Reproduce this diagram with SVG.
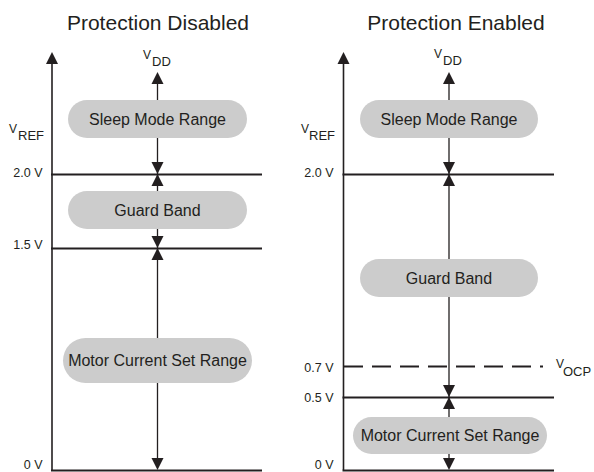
<svg xmlns="http://www.w3.org/2000/svg" width="594" height="472" viewBox="0 0 594 472">
<defs>
<style>
text{font-family:"Liberation Sans",Arial,sans-serif;fill:#231f20}
.title{font-size:21px;text-anchor:middle}
.pill{fill:#cccccc}
.pt{font-size:16px;text-anchor:middle}
.lbl{font-size:12.5px;text-anchor:end}
.v{font-size:12px}
.axis{stroke:#231f20;stroke-width:1.6;fill:none}
.lev{stroke:#231f20;stroke-width:2;fill:none}
.dash{stroke:#231f20;stroke-width:2;fill:none;stroke-dasharray:19 9}
.ctr{stroke:#231f20;stroke-width:1.3;fill:none}
.ah{fill:#231f20}
</style>
</defs>
<rect width="594" height="472" fill="#ffffff"/>
<text class="title" x="158" y="30">Protection Disabled</text>
<text class="title" x="456" y="30">Protection Enabled</text>

<g id="connectors">
<!-- left panel -->
<path class="axis" d="M52,60 V470"/>
<polygon class="ah" points="52,52 46,64 58,64"/>
<path class="lev" d="M51,174.5 H262 M51,248.5 H262 M51,470.5 H262"/>
<path class="ctr" d="M157.5,80 V464"/>
<polygon class="ah" points="157.5,72 151.5,84 163.5,84"/>
<polygon class="ah" points="157.5,174 151.5,162 163.5,162"/>
<polygon class="ah" points="157.5,174 151.5,186 163.5,186"/>
<polygon class="ah" points="157.5,248 151.5,236 163.5,236"/>
<polygon class="ah" points="157.5,248 151.5,260 163.5,260"/>
<polygon class="ah" points="157.5,470 151.5,458 163.5,458"/>
<!-- right panel -->
<path class="axis" d="M343.5,60 V470"/>
<polygon class="ah" points="343.5,52 337.5,64 349.5,64"/>
<path class="lev" d="M342.5,174.5 H554 M342.5,397.5 H554 M342.5,470.5 H554"/>
<path class="dash" d="M344,366.5 H543"/>
<path class="ctr" d="M449,80 V464"/>
<polygon class="ah" points="449,72 443,84 455,84"/>
<polygon class="ah" points="449,174 443,162 455,162"/>
<polygon class="ah" points="449,174 443,186 455,186"/>
<polygon class="ah" points="449,397 443,385 455,385"/>
<polygon class="ah" points="449,397 443,409 455,409"/>
<polygon class="ah" points="449,470 443,458 455,458"/>
</g>

<g id="labels">
<text class="v" x="143" y="59">V<tspan x="152" y="66" font-size="13">DD</tspan></text>
<text class="v" x="9" y="133">V<tspan x="18" y="140" font-size="13">REF</tspan></text>
<text class="lbl" x="42.5" y="177">2.0 V</text>
<text class="lbl" x="42.5" y="249">1.5 V</text>
<text class="lbl" x="42.5" y="468.5">0 V</text>
<text class="v" x="434" y="58">V<tspan x="443" y="65" font-size="13">DD</tspan></text>
<text class="v" x="301" y="133">V<tspan x="309" y="140" font-size="13">REF</tspan></text>
<text class="lbl" x="333.5" y="177">2.0 V</text>
<text class="lbl" x="333.5" y="371.5">0.7 V</text>
<text class="lbl" x="333.5" y="402">0.5 V</text>
<text class="lbl" x="333.5" y="468.5">0 V</text>
<text class="v" x="556" y="368">V<tspan x="563" y="375.5" font-size="13">OCP</tspan></text>
</g>

<g id="sleep-left"><rect class="pill" x="68" y="100" width="179" height="38" rx="19"/><text class="pt" x="157.5" y="125">Sleep Mode Range</text></g>
<g id="guard-left"><rect class="pill" x="68" y="191" width="179" height="38" rx="19"/><text class="pt" x="157.5" y="216">Guard Band</text></g>
<g id="motor-left"><rect class="pill" x="63" y="338" width="189" height="45" rx="22.5"/><text class="pt" x="157.5" y="366">Motor Current Set Range</text></g>

<g id="sleep-right"><rect class="pill" x="360" y="100" width="178" height="38" rx="19"/><text class="pt" x="449" y="125">Sleep Mode Range</text></g>
<g id="guard-right"><rect class="pill" x="360" y="259" width="178" height="38" rx="19"/><text class="pt" x="449" y="284">Guard Band</text></g>
<g id="motor-right"><rect class="pill" x="353" y="417" width="194" height="37" rx="18.5"/><text class="pt" x="450" y="441">Motor Current Set Range</text></g>
</svg>
